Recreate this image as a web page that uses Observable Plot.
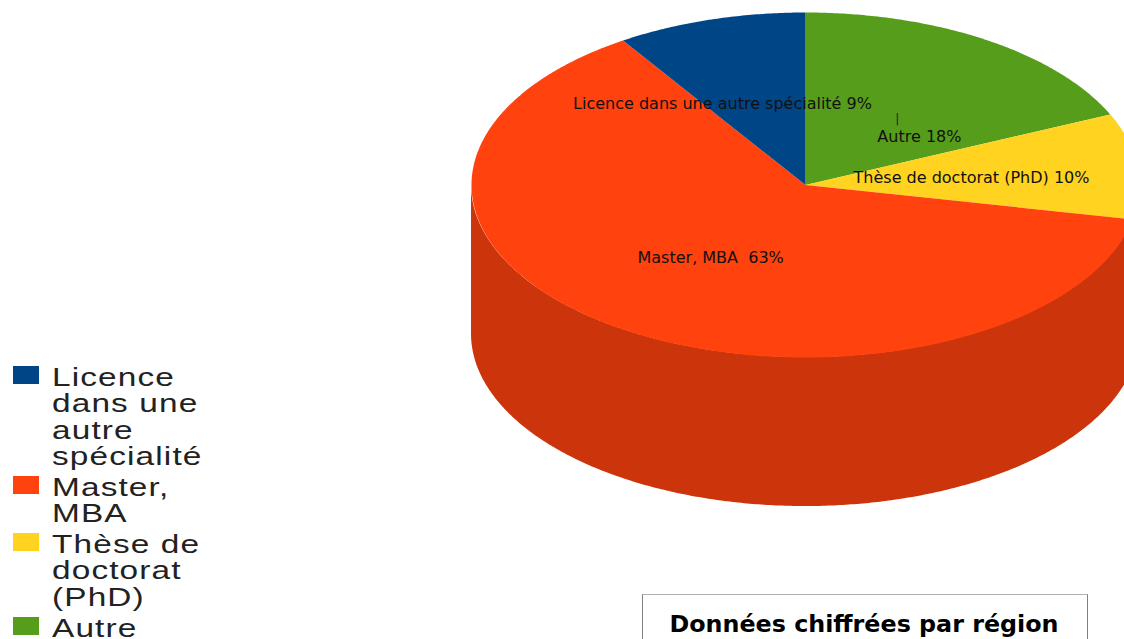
<!DOCTYPE html>
<html lang="fr">
<head>
<meta charset="utf-8">
<script src="https://cdn.jsdelivr.net/npm/d3@7"></script>
<script src="https://cdn.jsdelivr.net/npm/@observablehq/plot@0.6"></script>
<style>
  html, body { margin: 0; padding: 0; background: #fff; }
  #stage { position: relative; width: 1124px; height: 639px; overflow: hidden; }
  #chart { position: absolute; left: 0; top: 0; width: 1124px; height: 639px; }
  #legend { position: absolute; left: 0; top: 364px; font-family: "Liberation Sans", sans-serif; color: #222; }
  .row { position: relative; padding-bottom: 4.7px; }
  .swatch { position: absolute; left: 13px; top: 2px; width: 26px; height: 18px; }
  .name { margin-left: 52px; width: 116px; font-size: 25px; line-height: 26.3px; letter-spacing: 0.85px;
          transform: scaleX(1.335); transform-origin: left top; }
  #box { position: absolute; left: 642px; top: 594px; width: 444px; height: 80px; background: #fff;
         border: 1px solid #808080; border-top-color: #b0b0b0; text-align: center;
         font: bold 23.8px "DejaVu Sans", sans-serif; color: #000; padding-top: 14px; line-height: 30px; box-sizing: content-box; }
  #box span { position: relative; left: -1px; }
</style>
</head>
<body>
<div id="stage">
  <div id="chart"></div>
  <div id="legend"></div>
  <div id="box"><span id="title"></span></div>
</div>
<script>
const categories = ["Licence dans une autre spécialité", "Master, MBA", "Thèse de doctorat (PhD)", "Autre"];
const percents = [9.2, 62.6, 9.9, 18.3];
const topColours = ["#004586", "#ff420e", "#ffd320", "#579d1c"];
const wallColours = ["#00376b", "#cc350b", "#cca91a", "#467e16"];
const labelTexts = ["Licence dans une autre spécialité 9%", "Master, MBA  63%", "Thèse de doctorat (PhD) 10%", "Autre 18%"];
const title = "Données chiffrées par région";

// Label placement, in pie-radius units
const labelX = [-0.2485, -0.284, 0.497, 0.341];
const labelY = [0.472, -0.42, 0.043, 0.281];
const leaderX = 0.275, leaderY = 0.38;

// Pie geometry: unit ellipse; the wall drops by this many units
const wallDepth = 0.864;

// Slices run clockwise from the top, in reverse legend order
const order = d3.range(categories.length).reverse();
const arcs = d3.pie().sort(null).value(i => percents[i])(order);

const step = Math.PI / 360;
function samples(a0, a1) {
  const n = Math.max(1, Math.ceil((a1 - a0) / step));
  return d3.range(n + 1).map(k => a0 + (a1 - a0) * k / n);
}
const pt = a => ({x: Math.sin(a), y: Math.cos(a)});

const topPoints = arcs.flatMap(s => {
  const name = categories[s.data];
  return [{x: 0, y: 0, name}, ...samples(s.startAngle, s.endAngle).map(a => ({...pt(a), name}))];
});

// Only the front half of the rim shows a wall
const wallPoints = arcs.flatMap(s => {
  const a0 = Math.max(s.startAngle, Math.PI / 2), a1 = Math.min(s.endAngle, 3 * Math.PI / 2);
  if (a1 <= a0) return [];
  return samples(a0, a1).map(a => ({...pt(a), name: categories[s.data], wall: wallColours[s.data]}));
});

const labels = categories.map((name, i) => ({text: labelTexts[i], x: labelX[i], y: labelY[i]}));

const plot = Plot.plot({
  width: 1124,
  height: 639,
  margin: 0,
  style: {background: "transparent"},
  x: {domain: [-805 / 334, 319 / 334], range: [0, 1124], axis: null},
  y: {domain: [184.5 / 172.5, (184.5 - 639) / 172.5], range: [0, 639], axis: null},
  color: {domain: categories, range: topColours},
  marks: [
    Plot.areaY(wallPoints, {x: "x", y1: "y", y2: d => d.y - wallDepth, z: "name",
      fill: {value: d => d.wall, scale: null}}),
    Plot.line(topPoints, {x: "x", y: "y", z: "name", fill: "name", stroke: "none"}),
    Plot.text(labels, {x: "x", y: "y", text: "text", fill: "#111",
      fontFamily: "'DejaVu Sans', sans-serif", fontSize: 16, lineAnchor: "middle"}),
    Plot.text([{x: leaderX, y: leaderY}], {x: "x", y: "y", text: () => "|", fill: "#222",
      fontFamily: "'DejaVu Sans', sans-serif", fontSize: 12})
  ]
});
document.getElementById("chart").appendChild(plot);

const legend = document.getElementById("legend");
categories.forEach((name, i) => {
  const row = document.createElement("div");
  row.className = "row";
  const sw = document.createElement("div");
  sw.className = "swatch";
  sw.style.background = topColours[i];
  const t = document.createElement("div");
  t.className = "name";
  t.textContent = name;
  row.append(sw, t);
  legend.append(row);
});
document.getElementById("title").textContent = title;
</script>
</body>
</html>
